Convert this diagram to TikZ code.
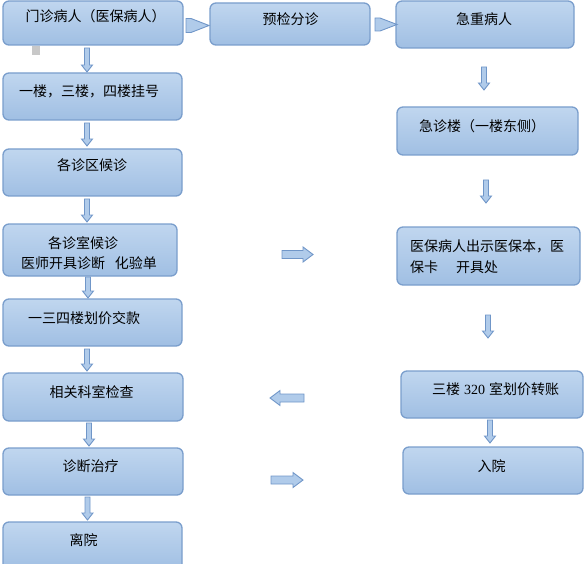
\documentclass[tikz,border=0pt]{standalone}
\usepackage{fontspec}
\setmainfont{Noto Sans CJK SC}
\newfontfamily\numfont{Liberation Serif}
\definecolor{boxtop}{RGB}{192,214,239}
\definecolor{boxbot}{RGB}{160,191,227}
\definecolor{boxline}{RGB}{122,158,204}
\definecolor{arrfill}{RGB}{176,203,234}
\definecolor{arrline}{RGB}{112,150,200}
\definecolor{greysq}{RGB}{200,200,200}
\newcommand\varr[3]{%
  \filldraw[arr] (#1-2.5,#2) -- (#1+2.5,#2) -- (#1+2.5,#3-7) -- (#1+5.5,#3-7) -- (#1,#3) -- (#1-5.5,#3-7) -- (#1-2.5,#3-7) -- cycle;}
\newcommand\rarr[3]{%
  \filldraw[arr] (#1,#3-4) -- (#2-10,#3-4) -- (#2-10,#3-7.5) -- (#2,#3) -- (#2-10,#3+7.5) -- (#2-10,#3+4) -- (#1,#3+4) -- cycle;}
\newcommand\larr[3]{%
  \filldraw[arr] (#2,#3-4) -- (#1+10,#3-4) -- (#1+10,#3-7.5) -- (#1,#3) -- (#1+10,#3+7.5) -- (#1+10,#3+4) -- (#2,#3+4) -- cycle;}
\begin{document}
\begin{tikzpicture}[x=1pt,y=-1pt,
  box/.style={draw=boxline, line width=1.3pt, rounded corners=6pt, top color=boxtop, bottom color=boxbot, inner sep=0pt},
  txt/.style={anchor=base, inner sep=0pt, font=\fontsize{14}{17}\selectfont, text=black},
  arr/.style={fill=arrfill, draw=arrline, line width=0.9pt, line join=miter}]
\useasboundingbox (0,0) rectangle (586,564);
\begin{scope}
\clip (0,0) rectangle (586,564);
% left column boxes
\node[box, minimum width=180pt, minimum height=44pt] (b1) at (93,23) {};
\node[box, minimum width=179pt, minimum height=47pt] (b2) at (92.5,96.5) {};
\node[box, minimum width=179pt, minimum height=47pt] (b3) at (92.5,172.5) {};
\node[box, minimum width=174pt, minimum height=52pt] (b4) at (90,250) {};
\node[box, minimum width=179pt, minimum height=47pt] (b5) at (92.5,322.5) {};
\node[box, minimum width=180pt, minimum height=48pt] (b6) at (93,397) {};
\node[box, minimum width=180pt, minimum height=47pt] (b7) at (93,471.5) {};
\node[box, minimum width=179pt, minimum height=48pt] (b8) at (92.5,546) {};
% right column boxes
\node[box, minimum width=160pt, minimum height=42pt] (r1) at (290,24) {};
\node[box, minimum width=178pt, minimum height=47pt] (r2) at (485,24.5) {};
\node[box, minimum width=181pt, minimum height=48pt] (r3) at (487.5,131) {};
\node[box, minimum width=183pt, minimum height=58pt] (r4) at (488.5,256) {};
\node[box, minimum width=182pt, minimum height=47pt] (r5) at (492,394.5) {};
\node[box, minimum width=180pt, minimum height=47pt] (r6) at (493,470.5) {};
\end{scope}
% grey square
\fill[greysq] (32,46) rectangle (40,55);
% texts
\node[txt] (t1) at (95.5,22) {门诊病人（医保病人）};
\node[txt] (t2) at (89,97) {一楼，三楼，四楼挂号};
\node[txt] (t3) at (92,170.5) {各诊区候诊};
\node[txt] (t4a) at (83,248.5) {各诊室候诊};
\node[txt] (t4b) at (89,268.5) {医师开具诊断\hspace{10pt}化验单};
\node[txt] (t5) at (84,323) {一三四楼划价交款};
\node[txt] (t6) at (91.5,397) {相关科室检查};
\node[txt] (t7) at (90.5,471.5) {诊断治疗};
\node[txt] (t8) at (83.5,545) {离院};
\node[txt] (s1) at (290.5,25) {预检分诊};
\node[txt] (s2) at (484,24.5) {急重病人};
\node[txt] (s3) at (482,132) {急诊楼（一楼东侧）};
\node[txt, anchor=base west] (s4a) at (410,251.5) {医保病人出示医保本，医};
\node[txt, anchor=base west] (s4b) at (410,272) {保卡\hspace{18pt}开具处};
\node[txt] (s5) at (495.5,394.5) {三楼\hspace{4pt}{\numfont 320}\hspace{4pt}室划价转账};
\node[txt] (s6) at (491.5,471.5) {入院};
% chevron arrows
\filldraw[arr] (186,18.5) -- (191,18.5) -- (209,25.5) -- (191,32.5) -- (186,32.5) -- cycle;
\filldraw[arr] (375,18) -- (380,18) -- (397,24.5) -- (380,31) -- (375,31) -- cycle;
% vertical block arrows, left
\varr{87}{48}{72}
\varr{87}{123}{146}
\varr{87}{199}{222}
\varr{88}{277}{298}
\varr{87}{349}{371}
\varr{89}{423}{446}
\varr{87.5}{497}{520}
% vertical block arrows, right
\varr{484}{67}{90}
\varr{486}{180}{203}
\varr{488}{315}{338}
\varr{490}{420}{443}
% horizontal block arrows
\rarr{282}{313}{254.5}
\larr{270}{304}{398}
\rarr{271}{303}{480}
\end{tikzpicture}
\end{document}
